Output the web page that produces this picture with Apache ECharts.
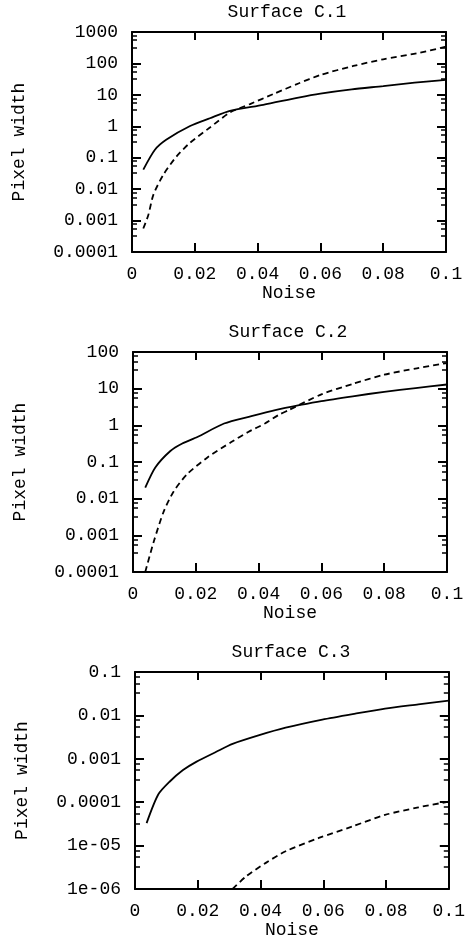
<!DOCTYPE html>
<html><head><meta charset="utf-8">
<script src="https://cdn.jsdelivr.net/npm/echarts@6/dist/echarts.min.js"></script>
<style>html,body{margin:0;padding:0;background:#fff}#c{width:468px;height:940px}</style>
</head><body><div id="c"></div>
<script>
const titles = ['Surface C.1', 'Surface C.2', 'Surface C.3'];
const xTickLabels = ['0', '0.02', '0.04', '0.06', '0.08', '0.1'];
const yTickLabels1 = ['0.0001', '0.001', '0.01', '0.1', '1', '10', '100', '1000'];
const yTickLabels2 = ['0.0001', '0.001', '0.01', '0.1', '1', '10', '100'];
const yTickLabels3 = ['1e-06', '1e-05', '0.0001', '0.001', '0.01', '0.1'];
const yMinExp = [-4, -4, -6];
const yMaxExp = [3, 2, -1];

const c1SolidX = [0.0036, 0.0073, 0.011, 0.0185, 0.0248, 0.0312, 0.0418, 0.053, 0.06, 0.07, 0.08, 0.09, 0.1];
const c1SolidY = [0.042, 0.18, 0.38, 1.02, 1.8, 3.1, 4.8, 8.2, 11, 15, 19, 24.5, 30];
const c1DashX = [0.0036, 0.0052, 0.0068, 0.01, 0.0142, 0.0185, 0.0248, 0.0312, 0.0376, 0.045, 0.053, 0.06, 0.0705, 0.08, 0.0907, 0.1];
const c1DashY = [0.00056, 0.0015, 0.0066, 0.029, 0.11, 0.3, 0.91, 2.74, 5.1, 10.6, 23, 43, 83, 135, 210, 340];

const c2SolidX = [0.0039, 0.0071, 0.0119, 0.0157, 0.0205, 0.029, 0.0377, 0.0453, 0.0533, 0.06, 0.07, 0.08, 0.09, 0.1];
const c2SolidY = [0.02, 0.071, 0.2, 0.32, 0.48, 1.12, 1.78, 2.6, 3.6, 4.6, 6.2, 8.2, 10.4, 13];
const c2DashX = [0.0039, 0.0066, 0.0098, 0.013, 0.0173, 0.0238, 0.0313, 0.0367, 0.042, 0.0463, 0.0496, 0.06, 0.07, 0.08, 0.0904, 0.1];
const c2DashY = [0.0001, 0.00067, 0.0045, 0.016, 0.047, 0.135, 0.35, 0.66, 1.12, 1.9, 2.6, 7, 13.5, 24, 36, 50];

const c3SolidX = [0.0037, 0.0074, 0.0111, 0.0153, 0.0195, 0.0259, 0.0311, 0.0396, 0.048, 0.0597, 0.0702, 0.0797, 0.0903, 0.1];
const c3SolidY = [3.3e-5, 1.5e-4, 3e-4, 5.5e-4, 8.5e-4, 1.45e-3, 2.2e-3, 3.5e-3, 5.2e-3, 8e-3, 0.011, 0.0144, 0.018, 0.022];
const c3DashX = [0.0311, 0.0354, 0.0417, 0.048, 0.0586, 0.0692, 0.0797, 0.0903, 0.1];
const c3DashY = [1e-6, 1.95e-6, 4e-6, 7.4e-6, 1.5e-5, 2.75e-5, 5.1e-5, 7.6e-5, 1.03e-4];

const zip = (xs, ys) => xs.map((x, i) => [x, ys[i]]);
const FONT = "'Liberation Mono', 'DejaVu Sans Mono', monospace";
const FS = 18;

const grids = [
  { left: 132, top: 32, width: 314, height: 220 },
  { left: 133, top: 352, width: 314, height: 220 },
  { left: 135, top: 672, width: 316, height: 217 }
];
const yLabelSets = [yTickLabels1, yTickLabels2, yTickLabels3];
const solids = [zip(c1SolidX, c1SolidY), zip(c2SolidX, c2SolidY), zip(c3SolidX, c3SolidY)];
const dashes = [zip(c1DashX, c1DashY), zip(c2DashX, c2DashY), zip(c3DashX, c3DashY)];

const mkLine = () => ({ show: true, onZero: false, lineStyle: { color: '#000', width: 2 } });
const mkTick = (len) => ({ show: true, inside: true, length: len, lineStyle: { color: '#000', width: 2 } });
const xAxes = [], yAxes = [], series = [], graphics = [];
grids.forEach((g, i) => {
  xAxes.push({
    type: 'value', gridIndex: i, position: 'bottom', min: 0, max: 0.1, interval: 0.02,
    axisLine: mkLine(), splitLine: { show: false }, axisTick: mkTick(9),
    axisLabel: { margin: 13, color: '#000', fontFamily: FONT, fontSize: FS,
      formatter: v => xTickLabels[Math.round(v / 0.02)] },
    name: 'Noise', nameLocation: 'middle', nameGap: 31,
    nameTextStyle: { color: '#000', fontFamily: FONT, fontSize: FS }
  });
  xAxes.push({
    type: 'value', gridIndex: i, position: 'top', min: 0, max: 0.1, interval: 0.02,
    axisLine: mkLine(), splitLine: { show: false }, axisTick: mkTick(8),
    axisLabel: { show: false }
  });
  const labels = yLabelSets[i];
  const lo = yMinExp[i], hi = yMaxExp[i];
  const yCommon = () => ({
    type: 'log', gridIndex: i, min: Math.pow(10, lo), max: Math.pow(10, hi),
    axisLine: mkLine(), splitLine: { show: false },
    axisTick: mkTick(9),
    minorTick: { show: true, splitNumber: 4, length: 5, lineStyle: { color: '#000', width: 1.5 } }
  });
  yAxes.push(Object.assign(yCommon(), {
    position: 'left',
    axisLabel: { margin: 14, color: '#000', fontFamily: FONT, fontSize: FS,
      formatter: v => labels[Math.round(Math.log10(v)) - lo] },
    name: 'Pixel width', nameLocation: 'middle', nameGap: 104, nameRotate: 90,
    nameTextStyle: { color: '#000', fontFamily: FONT, fontSize: FS }
  }));
  yAxes.push(Object.assign(yCommon(), { position: 'right', axisLabel: { show: false } }));
  series.push({
    type: 'line', xAxisIndex: 2 * i, yAxisIndex: 2 * i, data: solids[i], smooth: 0.25,
    symbol: 'none', lineStyle: { color: '#000', width: 1.8, type: 'solid' }, clip: true
  });
  series.push({
    type: 'line', xAxisIndex: 2 * i, yAxisIndex: 2 * i, data: dashes[i], smooth: 0.25,
    symbol: 'none', lineStyle: { color: '#000', width: 1.8, type: [6, 4] }, clip: true
  });
  graphics.push({
    type: 'text', x: g.left + g.width / 2 - 2, y: g.top - 20,
    style: { text: titles[i], fill: '#000', font: FS + 'px ' + FONT,
      textAlign: 'center', textVerticalAlign: 'middle', align: 'center', verticalAlign: 'middle' }
  });
});

const chart = echarts.init(document.getElementById('c'));
chart.setOption({
  animation: false,
  backgroundColor: '#fff',
  grid: grids,
  xAxis: xAxes,
  yAxis: yAxes,
  series,
  graphic: graphics
});
</script></body></html>
